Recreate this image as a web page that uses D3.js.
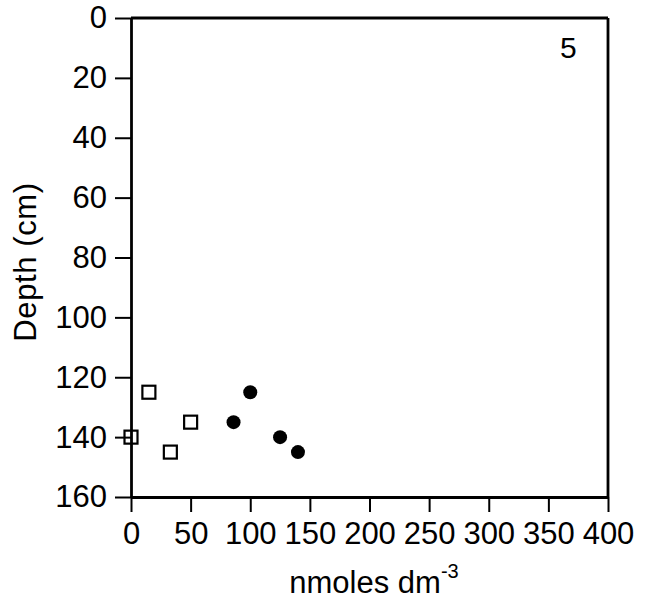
<!DOCTYPE html>
<html>
<head>
<meta charset="utf-8">
<script src="https://cdn.jsdelivr.net/npm/d3@7"></script>
<style>
  html, body { margin: 0; padding: 0; background: #fff; }
  svg { display: block; font-family: "Liberation Sans", Arial, Helvetica, sans-serif; }
</style>
</head>
<body>
<svg id="chart" width="651" height="610"></svg>
<script>
// Core 5 pore-water concentrations versus depth
const openDepth = [125, 140, 135, 145];      // open squares: depth (cm)
const openConc  = [15, 0, 50, 33];           // open squares: nmoles dm-3
const filledDepth = [125, 135, 140, 145];    // filled circles: depth (cm)
const filledConc  = [100, 86, 125, 140];     // filled circles: nmoles dm-3

const xTicks = [0, 50, 100, 150, 200, 250, 300, 350, 400];
const yTicks = [0, 20, 40, 60, 80, 100, 120, 140, 160];
const panelLabel = "5";

const svg = d3.select("#chart");
svg.append("rect").attr("width", 651).attr("height", 610).attr("fill", "#fff");

const plotLeft = 131, plotRight = 608, plotTop = 18, plotBottom = 497;
const x = d3.scaleLinear().domain([0, 400]).range([plotLeft, plotRight]);
const y = d3.scaleLinear().domain([0, 160]).range([plotTop, plotBottom]);

const fontSize = 31;
const fontFamily = "Liberation Sans, Arial, sans-serif";

// Left axis
const yAxis = svg.append("g")
  .attr("transform", `translate(${plotLeft},0)`)
  .call(d3.axisLeft(y).tickValues(yTicks).tickSize(16).tickSizeOuter(0).tickPadding(8));
yAxis.select(".domain").attr("stroke", "#000").attr("stroke-width", 2.8);
yAxis.selectAll(".tick line").attr("stroke", "#000").attr("stroke-width", 2);
yAxis.selectAll(".tick text")
  .attr("font-size", fontSize).attr("fill", "#000").attr("font-family", fontFamily);

// Bottom axis
const xAxis = svg.append("g")
  .attr("transform", `translate(0,${plotBottom})`)
  .call(d3.axisBottom(x).tickValues(xTicks).tickSize(15).tickSizeOuter(0).tickPadding(10));
xAxis.select(".domain").attr("stroke", "#000").attr("stroke-width", 2.8);
xAxis.selectAll(".tick line").attr("stroke", "#000").attr("stroke-width", 2);
xAxis.selectAll(".tick text")
  .attr("font-size", fontSize).attr("fill", "#000").attr("font-family", fontFamily);

// Frame: top and right edges
svg.append("line")
  .attr("x1", plotLeft).attr("x2", plotRight).attr("y1", y(0)).attr("y2", y(0))
  .attr("stroke", "#000").attr("stroke-width", 2.8);
svg.append("line")
  .attr("x1", plotRight).attr("x2", plotRight).attr("y1", y(0)).attr("y2", y(160))
  .attr("stroke", "#000").attr("stroke-width", 2.8);

// Open squares
const sq = 13;
svg.append("g").selectAll("rect")
  .data(openConc.map((c, i) => ({ c, d: openDepth[i] })))
  .join("rect")
  .attr("x", p => x(p.c) - sq / 2)
  .attr("y", p => y(p.d) - sq / 2)
  .attr("width", sq).attr("height", sq)
  .attr("fill", "none").attr("stroke", "#000").attr("stroke-width", 2.2);

// Filled circles
svg.append("g").selectAll("circle")
  .data(filledConc.map((c, i) => ({ c, d: filledDepth[i] })))
  .join("circle")
  .attr("cx", p => x(p.c))
  .attr("cy", p => y(p.d))
  .attr("r", 7)
  .attr("fill", "#000");

// Panel number
svg.append("text")
  .attr("x", 560).attr("y", 58)
  .attr("font-size", 30).attr("fill", "#000").attr("font-family", fontFamily)
  .text(panelLabel);

// Axis titles
const xt = svg.append("text")
  .attr("x", 374).attr("y", 593)
  .attr("text-anchor", "middle")
  .attr("font-size", fontSize).attr("fill", "#000").attr("font-family", fontFamily);
xt.append("tspan").text("nmoles dm");
xt.append("tspan").attr("font-size", 20).attr("dy", -15).text("-3");

svg.append("text")
  .attr("transform", "translate(36,262) rotate(-90)")
  .attr("text-anchor", "middle")
  .attr("font-size", fontSize).attr("letter-spacing", 0.6)
  .attr("fill", "#000").attr("font-family", fontFamily)
  .text("Depth (cm)");
</script>
</body>
</html>
